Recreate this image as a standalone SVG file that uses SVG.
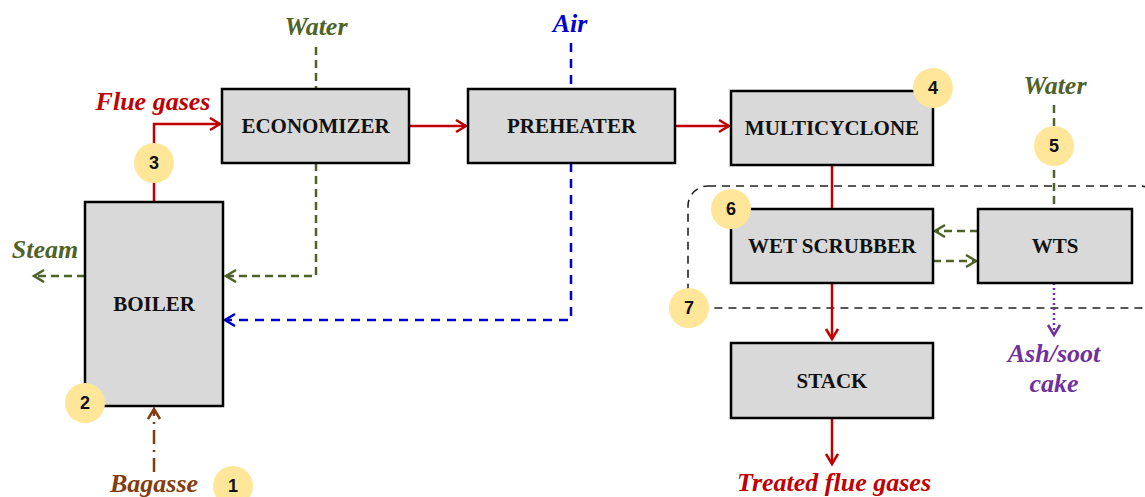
<svg xmlns="http://www.w3.org/2000/svg" width="1145" height="497" viewBox="0 0 1145 497">
<style>
.box{fill:#D9D9D9;stroke:#000;stroke-width:2.5}
.bl{font-family:"Liberation Serif",serif;font-weight:bold;font-size:21px;fill:#111;text-anchor:middle}
.lab{font-family:"Liberation Serif",serif;font-weight:bold;font-style:italic;font-size:26px;text-anchor:middle}
.num{fill:#FFE699;stroke:none}
.nt{font-family:"Liberation Sans",sans-serif;font-weight:bold;font-size:18px;fill:#111;text-anchor:middle}
.red{stroke:#C00000;stroke-width:2.5;fill:none}
.grn{stroke:#4F6228;stroke-width:2.5;fill:none;stroke-dasharray:8 5}
.blu{stroke:#0000CC;stroke-width:2.5;fill:none;stroke-dasharray:9 7}
.brn{stroke:#843C0C;stroke-width:2.5;fill:none;stroke-dasharray:14 6 2 6}
.pur{stroke:#7030A0;stroke-width:2.5;fill:none;stroke-dasharray:2 3}
.grp{stroke:#222;stroke-width:1.6;fill:none;stroke-dasharray:8 6}
</style>
<defs>
<marker id="ar" markerUnits="userSpaceOnUse" markerWidth="14" markerHeight="16" refX="11" refY="7" orient="auto"><path d="M1,1 L11,7 L1,13" fill="none" stroke="#C00000" stroke-width="2.5"/></marker>
<marker id="ag" markerUnits="userSpaceOnUse" markerWidth="14" markerHeight="16" refX="11" refY="7" orient="auto"><path d="M1,1 L11,7 L1,13" fill="none" stroke="#4F6228" stroke-width="2.5"/></marker>
<marker id="ab" markerUnits="userSpaceOnUse" markerWidth="14" markerHeight="16" refX="11" refY="7" orient="auto"><path d="M1,1 L11,7 L1,13" fill="none" stroke="#0000CC" stroke-width="2.5"/></marker>
<marker id="an" markerUnits="userSpaceOnUse" markerWidth="14" markerHeight="16" refX="11" refY="7" orient="auto"><path d="M1,1 L11,7 L1,13" fill="none" stroke="#843C0C" stroke-width="2.5"/></marker>
<marker id="ap" markerUnits="userSpaceOnUse" markerWidth="14" markerHeight="16" refX="11" refY="7" orient="auto"><path d="M1,1 L11,7 L1,13" fill="none" stroke="#7030A0" stroke-width="2.5"/></marker>
</defs>
<rect width="1145" height="497" fill="#fff"/>
<g id="group-outline"><rect class="grp" x="688" y="186" width="472" height="122" rx="20"/></g>
<g id="connectors">
<path class="red" d="M154,202 V124 H220" marker-end="url(#ar)"/>
<path class="red" d="M409,126 H466" marker-end="url(#ar)"/>
<path class="red" d="M675,126 H729" marker-end="url(#ar)"/>
<path class="red" d="M832,165 V209"/>
<path class="red" d="M832,283 V339" marker-end="url(#ar)"/>
<path class="red" d="M832,418 V464" marker-end="url(#ar)"/>
<path class="grn" d="M316,47 V89"/>
<path class="grn" d="M316,163 V276 H226" marker-end="url(#ag)"/>
<path class="grn" d="M85,276 H34" marker-end="url(#ag)"/>
<path class="blu" d="M571,43 V89"/>
<path class="blu" d="M571,163 V320 H225" marker-end="url(#ab)"/>
<path class="brn" d="M154,472 V409" marker-end="url(#an)"/>
<path class="grn" d="M1054,105 V209"/>
<path class="grn" d="M978,231 H935" marker-end="url(#ag)"/>
<path class="grn" d="M933,261 H976" marker-end="url(#ag)"/>
<path class="pur" d="M1054,283 V335" marker-end="url(#ap)"/>
</g>
<g id="boiler"><rect class="box" x="85" y="202" width="138" height="204"/><text class="bl" x="154" y="311">BOILER</text></g>
<g id="economizer"><rect class="box" x="222" y="89" width="187" height="74"/><text class="bl" x="315.5" y="133">ECONOMIZER</text></g>
<g id="preheater"><rect class="box" x="468" y="89" width="207" height="74"/><text class="bl" x="571.5" y="133">PREHEATER</text></g>
<g id="multicyclone"><rect class="box" x="731" y="91" width="202" height="74"/><text class="bl" x="832" y="135">MULTICYCLONE</text></g>
<g id="wet-scrubber"><rect class="box" x="731" y="209" width="202" height="74"/><text class="bl" x="832" y="253">WET SCRUBBER</text></g>
<g id="wts"><rect class="box" x="978" y="209" width="154" height="74"/><text class="bl" x="1055" y="253">WTS</text></g>
<g id="stack"><rect class="box" x="731" y="343" width="202" height="75"/><text class="bl" x="832" y="388">STACK</text></g>
<g id="labels">
<text class="lab" x="316" y="35" fill="#4F6228">Water</text>
<text class="lab" x="153" y="110" fill="#C00000">Flue gases</text>
<text class="lab" x="570" y="32" fill="#0000CC">Air</text>
<text class="lab" x="45" y="258" fill="#4F6228">Steam</text>
<text class="lab" x="154" y="492" fill="#843C0C">Bagasse</text>
<text class="lab" x="1055" y="94" fill="#4F6228">Water</text>
<text class="lab" x="1054" y="362" fill="#7030A0">Ash/soot</text>
<text class="lab" x="1054" y="392" fill="#7030A0">cake</text>
<text class="lab" x="834" y="491" fill="#C00000">Treated flue gases</text>
</g>
<g id="n1"><circle class="num" cx="233" cy="486" r="20"/><text class="nt" x="233" y="492">1</text></g>
<g id="n2"><circle class="num" cx="85" cy="403" r="20"/><text class="nt" x="85" y="409">2</text></g>
<g id="n3"><circle class="num" cx="154" cy="163" r="20"/><text class="nt" x="154" y="169">3</text></g>
<g id="n4"><circle class="num" cx="933" cy="88" r="20"/><text class="nt" x="933" y="94">4</text></g>
<g id="n5"><circle class="num" cx="1054" cy="146" r="20"/><text class="nt" x="1054" y="152">5</text></g>
<g id="n6"><circle class="num" cx="731" cy="209" r="20"/><text class="nt" x="731" y="215">6</text></g>
<g id="n7"><circle class="num" cx="689" cy="308" r="20"/><text class="nt" x="689" y="314">7</text></g>
</svg>
